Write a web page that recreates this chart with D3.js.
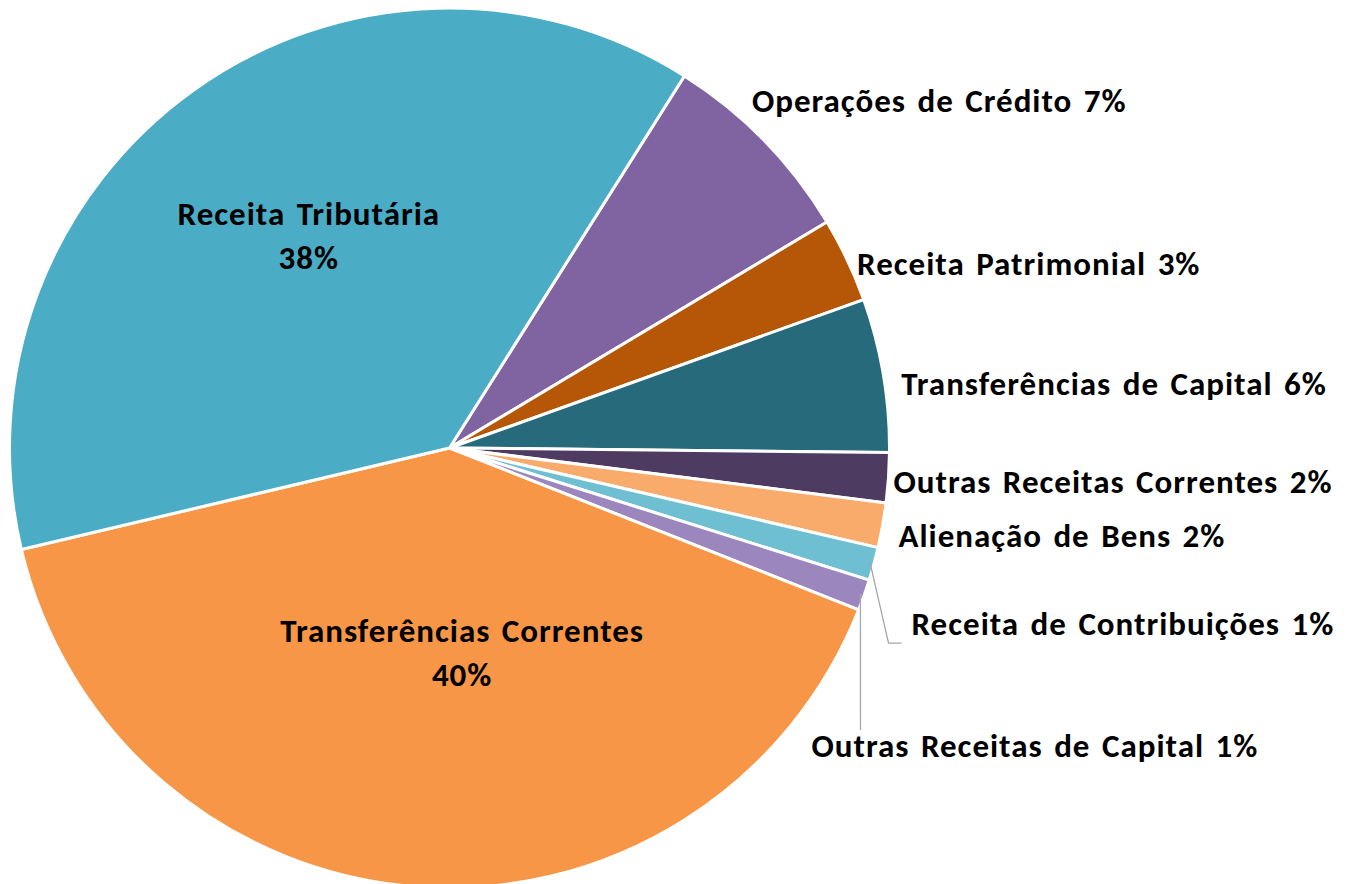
<!DOCTYPE html>
<html>
<head>
<meta charset="utf-8">
<script src="https://cdn.jsdelivr.net/npm/d3@7"></script>
<style>
  html, body { margin: 0; padding: 0; background: #fff; }
  svg text { font-family: Calibri, Carlito, Lato, sans-serif; font-weight: 700; fill: #000; letter-spacing: 1px; word-spacing: 3px; }
</style>
</head>
<body>
<div id="chart"></div>
<script>
// --- data (share of revenue, %) ---
const categories = [
  "Operações de Crédito",
  "Receita Patrimonial",
  "Transferências de Capital",
  "Outras Receitas Correntes",
  "Alienação de Bens",
  "Receita de Contribuições",
  "Outras Receitas de Capital",
  "Transferências Correntes",
  "Receita Tributária"
];
const values = [7.45, 3.11, 5.64, 1.83, 1.64, 1.22, 1.14, 40.3, 37.67];
const colors = [
  "#8064A2", "#B65708", "#276A7C", "#4D3B62", "#F9AB6C",
  "#6FBFD3", "#9C86BE", "#F79646", "#4BACC6"
];

// which labels sit inside their slice (two lines) and which have leader lines
const insideLabel = [false, false, false, false, false, false, false, true, true];
// nudges for the label positions, Excel style
const labelNudge = [[-21, -30], [-1, 10], [6, 12], [-7, 4], [4, 10], [26, 58], [-64, 148], [30, -31], [0, -10]];
// leader line end, relative to the label anchor (null = no line)
const leaderEnd = [null, null, null, null, null, [-23, 8, 13], [49, -27, 0], null, null];

const width = 1349;
const height = 884;
const cx = 449.5, cy = 448, R = 440;
const fontSize = 33;

const svg = d3.select("#chart").append("svg")
  .attr("width", width)
  .attr("height", height);

const g = svg.append("g").attr("transform", `translate(${cx},${cy})`);

const total = d3.sum(values);
const pct = d3.format(".0%");

const pie = d3.pie()
  .sort(null)
  .value(d => d.value)
  .startAngle(32.27 * Math.PI / 180)
  .endAngle(32.27 * Math.PI / 180 + 2 * Math.PI);

const data = categories.map((c, i) => ({ name: c, value: values[i], i: i }));
const arcs = pie(data);

const arc = d3.arc().innerRadius(0).outerRadius(R);

// slices
g.selectAll("path.slice")
  .data(arcs)
  .enter()
  .append("path")
  .attr("class", "slice")
  .attr("d", arc)
  .attr("fill", d => colors[d.data.i])
  .attr("stroke", "#fff")
  .attr("stroke-width", 3)
  .attr("stroke-linejoin", "round");

const midAngle = d => (d.startAngle + d.endAngle) / 2;
const polar = (a, r) => [r * Math.sin(a), -r * Math.cos(a)];

// labels
arcs.forEach(d => {
  const i = d.data.i;
  const a = midAngle(d);
  const nd = labelNudge[i];
  const label = pct(d.data.value / total);
  if (insideLabel[i]) {
    const p = polar(a, R * 0.55);
    const x = p[0] + nd[0];
    const y = p[1] - 16 + nd[1];
    const t = g.append("text")
      .attr("text-anchor", "middle")
      .attr("font-size", fontSize);
    t.append("tspan").attr("x", x).attr("y", y).text(d.data.name);
    t.append("tspan").attr("x", x).attr("y", y + 44).text(label);
  } else {
    const p = polar(a, R + 12);
    const x = p[0] + nd[0];
    const y = p[1] + 10 + nd[1];
    g.append("text")
      .attr("x", x)
      .attr("y", y)
      .attr("font-size", fontSize)
      .text(d.data.name + " " + label);

    const le = leaderEnd[i];
    if (le) {
      const s = polar(a, R - 4);
      const ex = x + le[0], ey = y + le[1];
      const pts = [s, [ex, ey]];
      if (le[2] > 0) pts.push([ex + le[2], ey]);
      g.append("path")
        .attr("d", d3.line()(pts))
        .attr("fill", "none")
        .attr("stroke", "#A6A6A6")
        .attr("stroke-width", 1.3);
    }
  }
});
</script>
</body>
</html>
